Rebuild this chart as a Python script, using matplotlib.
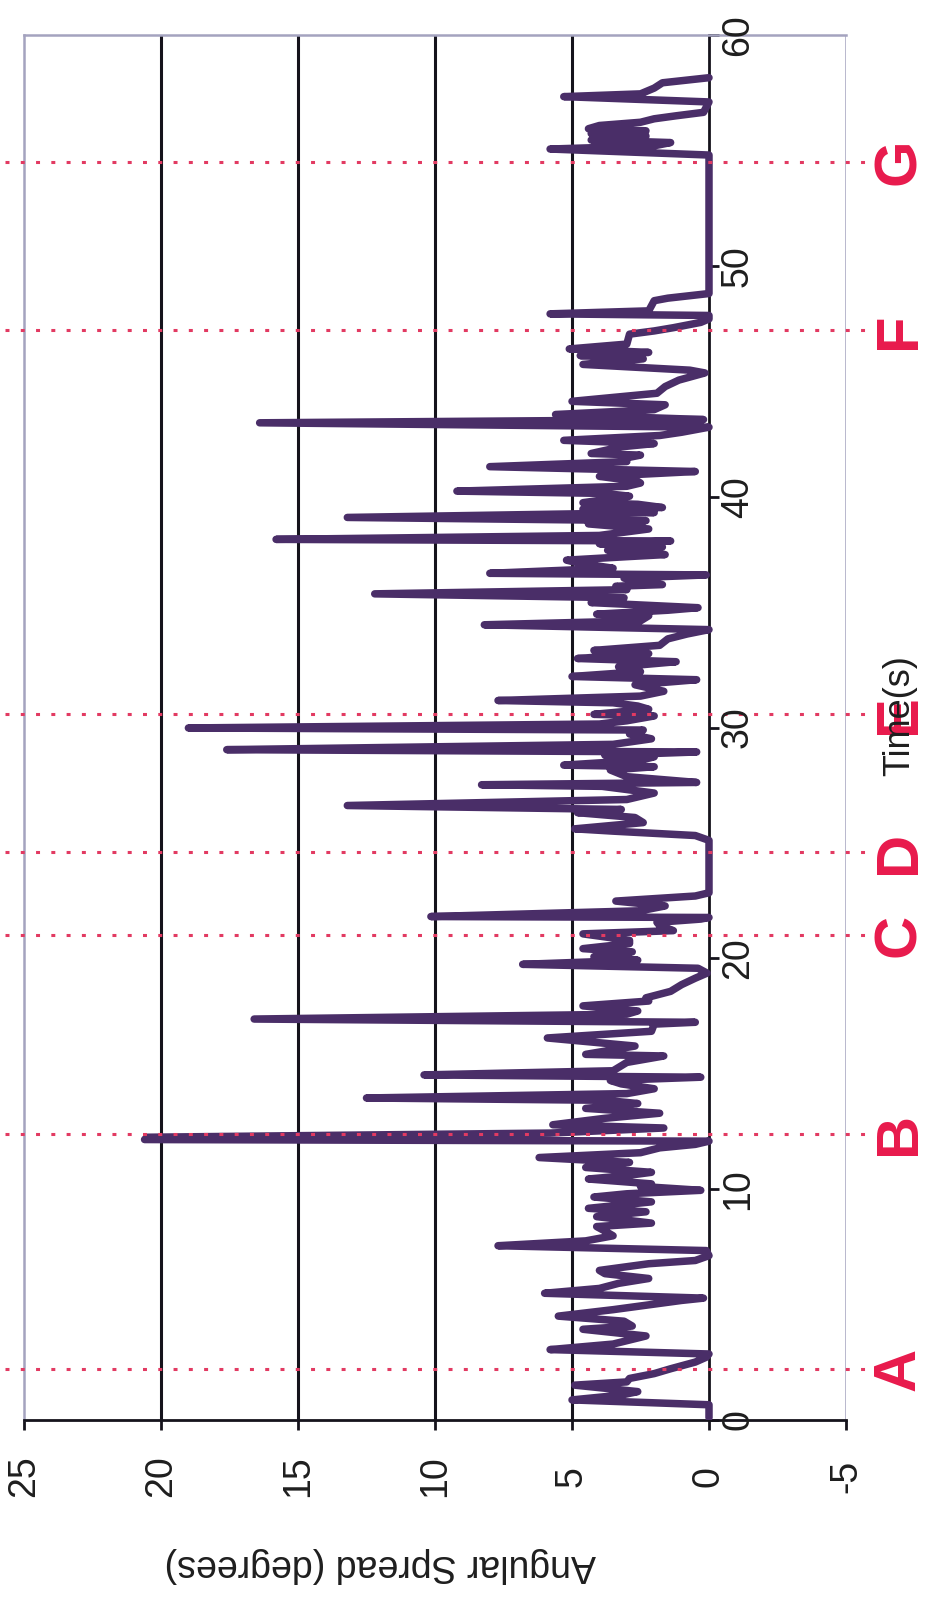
import matplotlib
matplotlib.use("Agg")
import matplotlib.pyplot as plt

# Angular spread trace (time in seconds, spread in degrees)
time_s = [
    0.10, 0.66, 0.87, 1.08, 1.23, 1.51, 1.65, 1.80, 2.01, 2.22, 2.51, 2.72, 2.86,
    3.05, 3.29, 3.64, 3.93, 4.07, 4.28, 4.50, 4.78, 4.99, 5.18, 5.28, 5.49, 5.70,
    5.92, 6.13, 6.34, 6.48, 6.77, 6.91, 7.12, 7.34, 7.55, 7.76, 7.98, 8.12,
    8.38, 8.53, 8.81, 9.02, 9.17, 9.45, 9.66, 9.80, 9.95, 10.12, 10.23, 10.44,
    10.59, 10.73, 10.94, 11.16, 11.37, 11.58, 11.79, 11.94, 12.08, 12.15, 12.25,
    12.43, 12.65, 12.79, 13.07, 13.29, 13.50, 13.71, 13.85, 13.95, 14.14, 14.35,
    14.56, 14.71, 14.85, 14.95, 15.13, 15.49, 15.77, 15.84, 16.20, 16.55, 16.84,
    17.15, 17.23, 17.37, 17.58, 17.72, 17.94, 18.15, 18.29, 18.57, 18.86, 19.14,
    19.36, 19.57, 19.74, 19.92, 20.07, 20.28, 20.42, 20.64, 20.78, 21.06, 21.20,
    21.42, 21.56, 21.70, 21.77, 21.81, 22.06, 22.27, 22.34, 22.48, 22.70, 22.84,
    25.11, 25.32, 25.51, 25.61, 25.88, 26.10, 26.31, 26.45, 26.62, 26.88, 27.16,
    27.45, 27.52, 27.62, 27.87, 28.16, 28.30, 28.37, 28.58, 28.73, 28.80, 28.94,
    29.04, 29.27, 29.51, 29.72, 29.89, 29.98, 30.15, 30.29, 30.50, 30.57, 30.79,
    30.93, 31.07, 31.17, 31.36, 31.57, 31.85, 32.07, 32.21, 32.42, 32.63, 32.85,
    32.99, 33.20, 33.34, 33.56, 33.84, 34.05, 34.24, 34.45, 34.62, 34.84, 34.91,
    35.08, 35.19, 35.41, 35.62, 35.79, 35.97, 36.12, 36.19, 36.47, 36.61, 36.68,
    36.90, 37.11, 37.25, 37.40, 37.49, 37.68, 37.82, 37.96, 38.08, 38.15, 38.32,
    38.60, 38.82, 38.96, 39.10, 39.31, 39.46, 39.53, 39.67, 39.74, 40.02, 40.14,
    40.24, 40.45, 40.59, 40.66, 40.88, 41.09, 41.30, 41.52, 41.66, 41.80, 41.87,
    42.16, 42.30, 42.44, 42.65, 42.79, 43.01, 43.20, 43.34, 43.56, 43.77, 43.98,
    44.13, 44.48, 44.77, 45.05, 45.36, 45.48, 45.73, 45.97, 46.11, 46.25, 46.40,
    46.61, 47.04, 47.18, 47.32, 47.55, 47.70, 47.85, 47.92, 48.05, 48.49, 48.60,
    48.80, 54.80, 55.06, 55.20, 55.34, 55.45, 55.51, 55.62, 55.73, 55.85, 55.94,
    56.08, 56.22, 56.37, 56.50, 56.65, 57.10, 57.33, 57.45, 57.70, 57.93, 58.15,
]
spread_deg = [
    0.0, 0.0, 5.0, 3.2, 2.6, 4.9, 3.0, 2.9, 2.0, 1.4, 0.5, 0.1, 0.0,
    5.8, 3.5, 2.3, 4.6, 2.8, 3.1, 5.5, 3.5, 2.2, 1.0, 0.2, 6.0, 4.0,
    3.3, 2.2, 3.8, 4.0, 2.2, 0.5, 0.0, 0.1, 7.7, 4.5, 3.5, 3.7,
    4.1, 2.1, 4.1, 2.3, 4.4, 2.1, 4.2, 3.0, 0.3, 2.5, 2.1, 4.4,
    3.0, 2.1, 4.5, 2.9, 6.2, 2.5, 1.8, 0.5, 0.0, 20.6, 20.5,
    5.8, 1.65, 5.7, 3.8, 1.8, 4.5, 2.6, 3.8, 12.5, 3.0, 2.0,
    3.2, 3.6, 0.3, 10.4, 3.5, 3.0, 1.65, 4.5, 2.7, 5.9, 2.1,
    2.0, 0.5, 16.6, 3.0, 2.6, 4.6, 2.2, 2.3, 1.4, 1.0, 0.5,
    0.07, 0.4, 6.8, 2.6, 4.2, 2.8, 4.6, 2.9, 2.9, 4.6, 1.3,
    1.8, 1.9, 0.3, 0.0, 10.15, 2.5, 1.6, 2.2, 3.4, 0.5, 0.0,
    0.0, 0.5, 3.5, 4.9, 2.4, 2.7, 4.8, 3.2, 13.2, 3.0, 2.0,
    3.9, 8.3, 0.45, 3.0, 3.6, 2.0, 5.3, 2.5, 2.0, 3.8, 0.45,
    17.6, 3.5, 2.1, 2.9, 2.4, 19.0, 4.0, 3.0, 2.0, 4.2, 2.2,
    2.6, 3.5, 7.7, 2.5, 1.65, 2.7, 0.45, 5.0, 2.5, 3.3, 1.2,
    4.8, 2.2, 4.2, 1.8, 1.5, 0.8, 0.0, 8.2, 2.5, 2.2, 4.1,
    1.5, 0.4, 4.3, 3.1, 12.2, 3.0, 3.4, 1.7, 3.1, 0.1, 8.0,
    3.5, 4.7, 5.2, 3.0, 1.6, 3.7, 1.7, 4.0, 1.4, 15.8, 4.0,
    2.2, 4.4, 2.3, 13.2, 2.0, 4.6, 1.7, 2.6, 4.6, 2.9, 3.8,
    9.2, 3.0, 2.5, 2.6, 4.0, 0.5, 8.0, 3.0, 3.1, 2.5, 4.3,
    3.2, 2.0, 5.3, 1.8, 1.0, 0.0, 16.4, 0.2, 5.6, 2.0, 1.6,
    5.0, 1.9, 1.6, 1.1, 0.15, 0.7, 4.6, 2.4, 4.7, 2.2, 5.1,
    3.0, 2.9, 2.0, 1.3, 0.3, 0.0, 0.0, 5.8, 2.2, 2.0, 1.5,
    0.0, 0.0, 5.8, 2.0, 1.4, 4.3, 3.6, 2.3, 4.3, 2.3, 4.4,
    4.0, 2.5, 2.0, 1.2, 0.2, 0.0, 5.3, 2.5, 2.0, 1.7, 0.0,
]

# Marked events
event_labels = ["A", "B", "C", "D", "E", "F", "G"]
event_times = [2.2, 12.4, 21.0, 24.6, 30.6, 47.2, 54.5]

# Axis ticks
time_ticks = [0, 10, 20, 30, 40, 50, 60]
spread_ticks = [25, 20, 15, 10, 5, 0, -5]
grid_values = [20, 15, 10, 5]

plt.rcParams["font.family"] = ["Liberation Sans", "DejaVu Sans"]

BORDER = "#a4a3bf"
AXIS = "#15131c"
TRACE = "#4a2e68"
EVENT_DOT = "#e23a62"
EVENT_TEXT = "#e81a4c"
TEXT = "#1e1e1e"

W, H = 933, 1604
X_LEFT, X_RIGHT = 24, 846      # pixel columns of spread = 25 and spread = -5
Y_TOP, Y_BOTTOM = 35, 1420     # pixel rows of t = 60 and t = 0

fig = plt.figure(figsize=(W / 100, H / 100), dpi=100)
ax = fig.add_axes([X_LEFT / W, 1 - Y_BOTTOM / H,
                   (X_RIGHT - X_LEFT) / W, (Y_BOTTOM - Y_TOP) / H])
ax.set_xlim(25, -5)
ax.set_ylim(0, 60)

# Plot-area frame
for side in ("left", "top"):
    ax.spines[side].set_color(BORDER)
    ax.spines[side].set_linewidth(1.8)
ax.axvline(-5, color=BORDER, lw=1.8, zorder=0.5)

# Value axis along t = 0, time axis along spread = 0
ax.spines["bottom"].set_color(AXIS)
ax.spines["bottom"].set_linewidth(2.0)
ax.spines["right"].set_position(("data", 0))
ax.spines["right"].set_color(AXIS)
ax.spines["right"].set_linewidth(2.0)
ax.spines["right"].set_zorder(2.5)

ax.set_xticks(spread_ticks)
ax.tick_params(axis="x", direction="out", length=7, width=2.0, colors=AXIS,
               labelbottom=False)
ax.yaxis.set_ticks_position("right")
ax.set_yticks(time_ticks)
ax.tick_params(axis="y", direction="out", length=7, width=2.0, colors=AXIS,
               labelright=False, labelleft=False)

for v in grid_values:
    ax.axvline(v, color=AXIS, lw=2.2, zorder=1)

ax.plot(spread_deg, time_s, color=TRACE, lw=5.4, zorder=3,
        solid_joinstyle="round", solid_capstyle="round")

# Event markers
ytrans = ax.get_yaxis_transform()
for lab, t in zip(event_labels, event_times):
    ax.plot([-0.023, 1.03], [t, t], transform=ytrans, clip_on=False,
            color=EVENT_DOT, lw=2.2, linestyle=(0, (1.3, 3.7)), zorder=4)
    ax.text(-6.95, t, lab, rotation=90, ha="center", va="center",
            fontsize=43, fontweight="bold", color=EVENT_TEXT, zorder=5,
            clip_on=False)

# Tick labels
for t in time_ticks:
    ax.text(-1.06, t, str(t), rotation=90, ha="center", va="center",
            fontsize=27, color=TEXT, clip_on=False, zorder=6)
for v in spread_ticks:
    ax.text(v, -2.43, str(v), rotation=90, ha="center", va="center",
            fontsize=27, color=TEXT, clip_on=False, zorder=6)

# Axis titles
ax.text(12.0, -6.28, "Angular Spread (degrees)", rotation=180, ha="center",
        va="center", fontsize=27, color=TEXT, clip_on=False)
ax.text(-6.97, 30.5, "Time(s)", rotation=90, ha="center", va="center",
        fontsize=26, color=TEXT, clip_on=False, zorder=6)

fig.savefig("out.png", dpi=100, facecolor="white")
